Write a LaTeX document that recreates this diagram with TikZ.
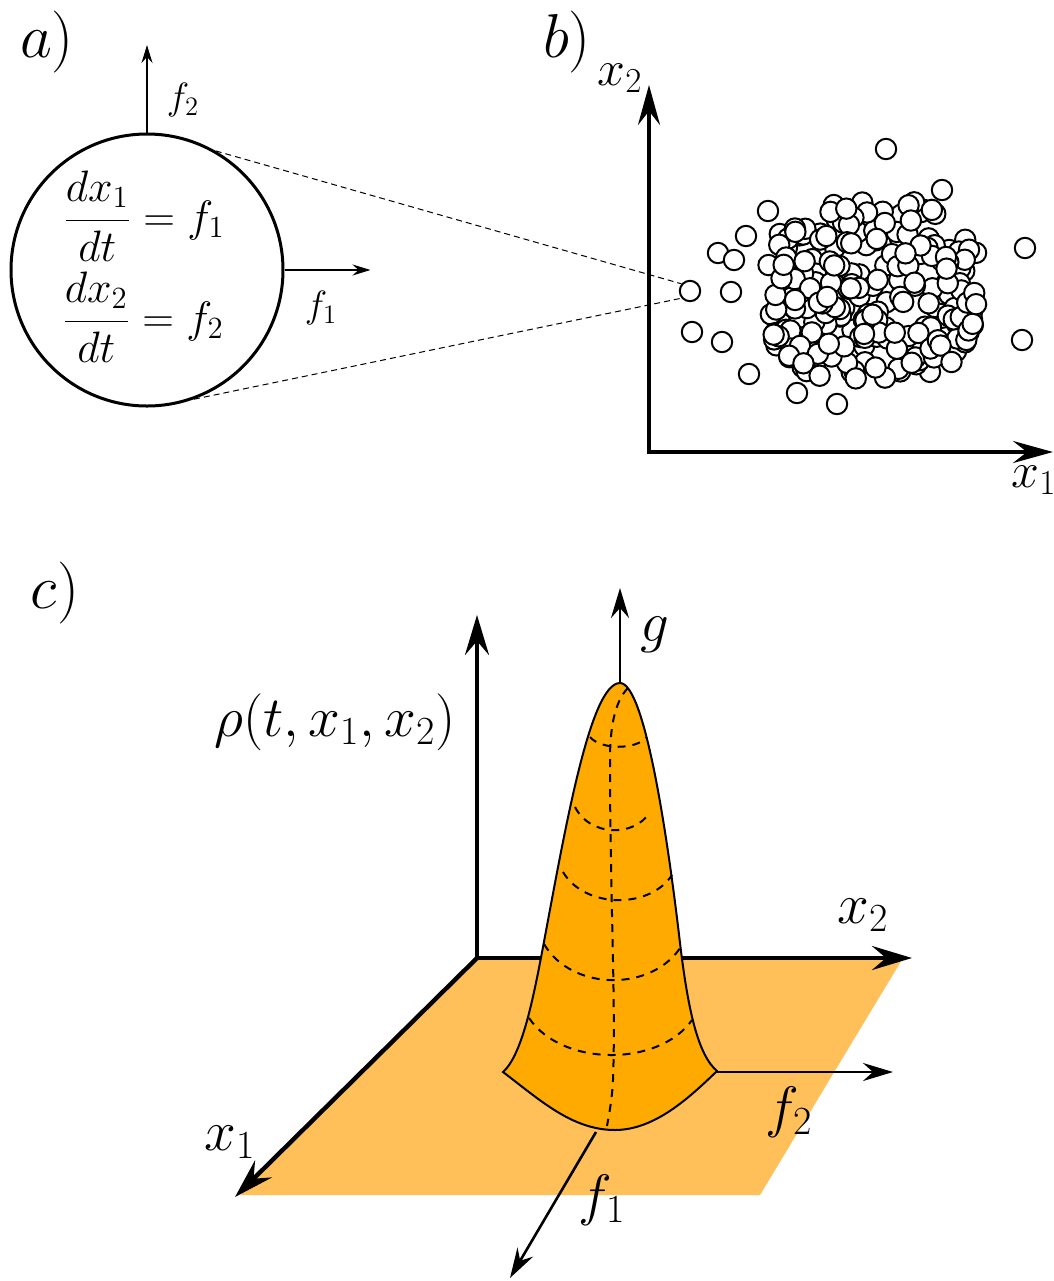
\RequirePackage{fix-cm}
\documentclass[tikz,border=0pt]{standalone}
\usetikzlibrary{arrows.meta}
\definecolor{planeorange}{RGB}{255,192,90}
\definecolor{peakorange}{RGB}{255,170,0}
\begin{document}
\begin{tikzpicture}[x=0.5pt, y=-0.5pt,
  particle/.style={circle, draw, fill=white, line width=1pt, minimum size=10.2pt, inner sep=0pt},
  panel/.style={font=\fontsize{31}{34}\selectfont},
  formula/.style={font=\fontsize{22}{26}\selectfont, inner sep=0pt},
  flabel/.style={font=\fontsize{19}{22}\selectfont},
  blabel/.style={font=\fontsize{25}{28}\selectfont},
  clabel/.style={font=\fontsize{28.5}{32}\selectfont},
  smallarrow/.style={line width=1pt, -{Stealth[length=9pt, width=5.5pt, inset=3pt]}},
  axis/.style={line width=2pt, {Stealth[length=20pt, width=11pt, inset=7pt]}-{Stealth[length=20pt, width=11pt, inset=7pt]}},
  bigaxis/.style={line width=2.2pt, -{Stealth[length=20pt, width=12pt, inset=7pt]}},
  fluxarrow/.style={line width=1.3pt, -{Stealth[length=15pt, width=9pt, inset=5pt]}},
  zoomline/.style={line width=0.5pt, dash pattern=on 3pt off 2pt},
  peak/.style={fill=peakorange, draw, line width=1pt},
  level/.style={line width=1pt, dash pattern=on 4pt off 3.5pt}
]
\useasboundingbox (0,0) rectangle (1054,1281);

\node[panel] (la) at (47,42) {$a)$};
\node[panel] (lb) at (567,42) {$b)$};
\node[panel] (lc) at (55,593) {$c)$};

\node[circle, draw, line width=1.5pt, minimum size=136pt] (cell) at (147,270) {};
\node[formula] (eq1) at (144,216) {$\displaystyle\frac{dx_1}{dt}=f_1$};
\node[formula] (eq2) at (143,317) {$\displaystyle\frac{dx_2}{dt}=f_2$};
\coordinate (f2end) at (147,45);
\path (cell.east) ++(86,0) coordinate (f1end);
\draw[smallarrow] (cell.north) -- (f2end);
\draw[smallarrow] (cell.east) -- (f1end);
\node[flabel] (lf2) at (183,100) {$f_2$};
\node[flabel] (lf1) at (321,308) {$f_1$};

\coordinate (borig) at (649,452);
\coordinate (bytip) at (649,85);
\coordinate (bxtip) at (1053,452);
\draw[axis] (bytip) -- (borig) -- (bxtip);
\node[blabel] (bx2) at (620,78) {$x_2$};
\node[blabel] (bx1) at (1034,480) {$x_1$};

\foreach \x/\y [count=\n] in {886/149, 942/190, 768/211, 746/236, 718/253, 734/260, 1025/248, 731/292, 692/332, 722/342, 1022/340, 749/374, 797/393, 837/404}
  \node[particle] (q\n) at (\x,\y) {};
\pgfmathsetseed{23}
\foreach \i in {1,...,240}{
  \pgfmathsetmacro{\ang}{360*rnd}
  \pgfmathsetmacro{\rad}{sqrt(rnd)*(abs(cos(\ang))^3+abs(sin(\ang))^3)^(-1/3)}
  \node[particle] (p\i) at ({873+106*\rad*cos(\ang)},{290+90*\rad*sin(\ang)}) {};
}
\node[particle] (pt) at (690,291) {};
\draw[zoomline] (cell.60) -- (pt.140);
\draw[zoomline] (cell.-70) -- (pt.220);

\fill[planeorange] (477,958) -- (903,958) -- (760,1195) -- (240,1195) -- cycle;
\coordinate (corig) at (477,958);
\coordinate (rhotip) at (477,615);
\coordinate (cx2tip) at (912,958);
\coordinate (cx1tip) at (235,1197);
\draw[bigaxis] (corig) -- (rhotip);
\draw[bigaxis] (corig) -- (cx2tip);
\draw[bigaxis] (corig) -- (cx1tip);

\filldraw[peak] (503,1072) .. controls (522,1055) and (533,1000) .. (543,947)
  .. controls (565,830) and (590,683) .. (620,683)
  .. controls (645,683) and (668,840) .. (680,943)
  .. controls (688,1010) and (698,1055) .. (717,1071)
  .. controls (690,1097) and (655,1130) .. (615,1130)
  .. controls (572,1130) and (540,1100) .. (503,1072) -- cycle;
\draw[level] (628,688) .. controls (614,702) and (610,730) .. (610,760)
  .. controls (610,900) and (616,1000) .. (613,1080)
  .. controls (612,1100) and (609,1115) .. (607,1126);
\draw[level] (590,737) .. controls (601,750) and (636,750) .. (647,737);
\draw[level] (575,807) .. controls (590,837) and (635,837) .. (650,812);
\draw[level] (563,872) .. controls (585,909) and (650,909) .. (672,875);
\draw[level] (544,944) .. controls (572,992) and (654,992) .. (682,945);
\draw[level] (529,1018) .. controls (562,1067) and (659,1067) .. (692,1020);

\coordinate (apex) at (620,683);
\coordinate (gtip) at (620,588);
\coordinate (rbase) at (717,1072);
\coordinate (f2tip) at (893,1072);
\coordinate (fbot) at (596,1132);
\coordinate (f1tip) at (510,1278);
\draw[fluxarrow] (apex) -- (gtip);
\draw[fluxarrow] (rbase) -- (f2tip);
\draw[fluxarrow] (fbot) -- (f1tip);

\node[clabel] (lrho) at (335,722) {$\rho(t,x_1,x_2)$};
\node[clabel] (lx2) at (863,915) {$x_2$};
\node[clabel] (lx1) at (230,1142) {$x_1$};
\node[clabel] (lg) at (655,635) {$g$};
\node[clabel] (lcf2) at (789,1112) {$f_2$};
\node[clabel] (lcf1) at (602,1200) {$f_1$};
\end{tikzpicture}
\end{document}
